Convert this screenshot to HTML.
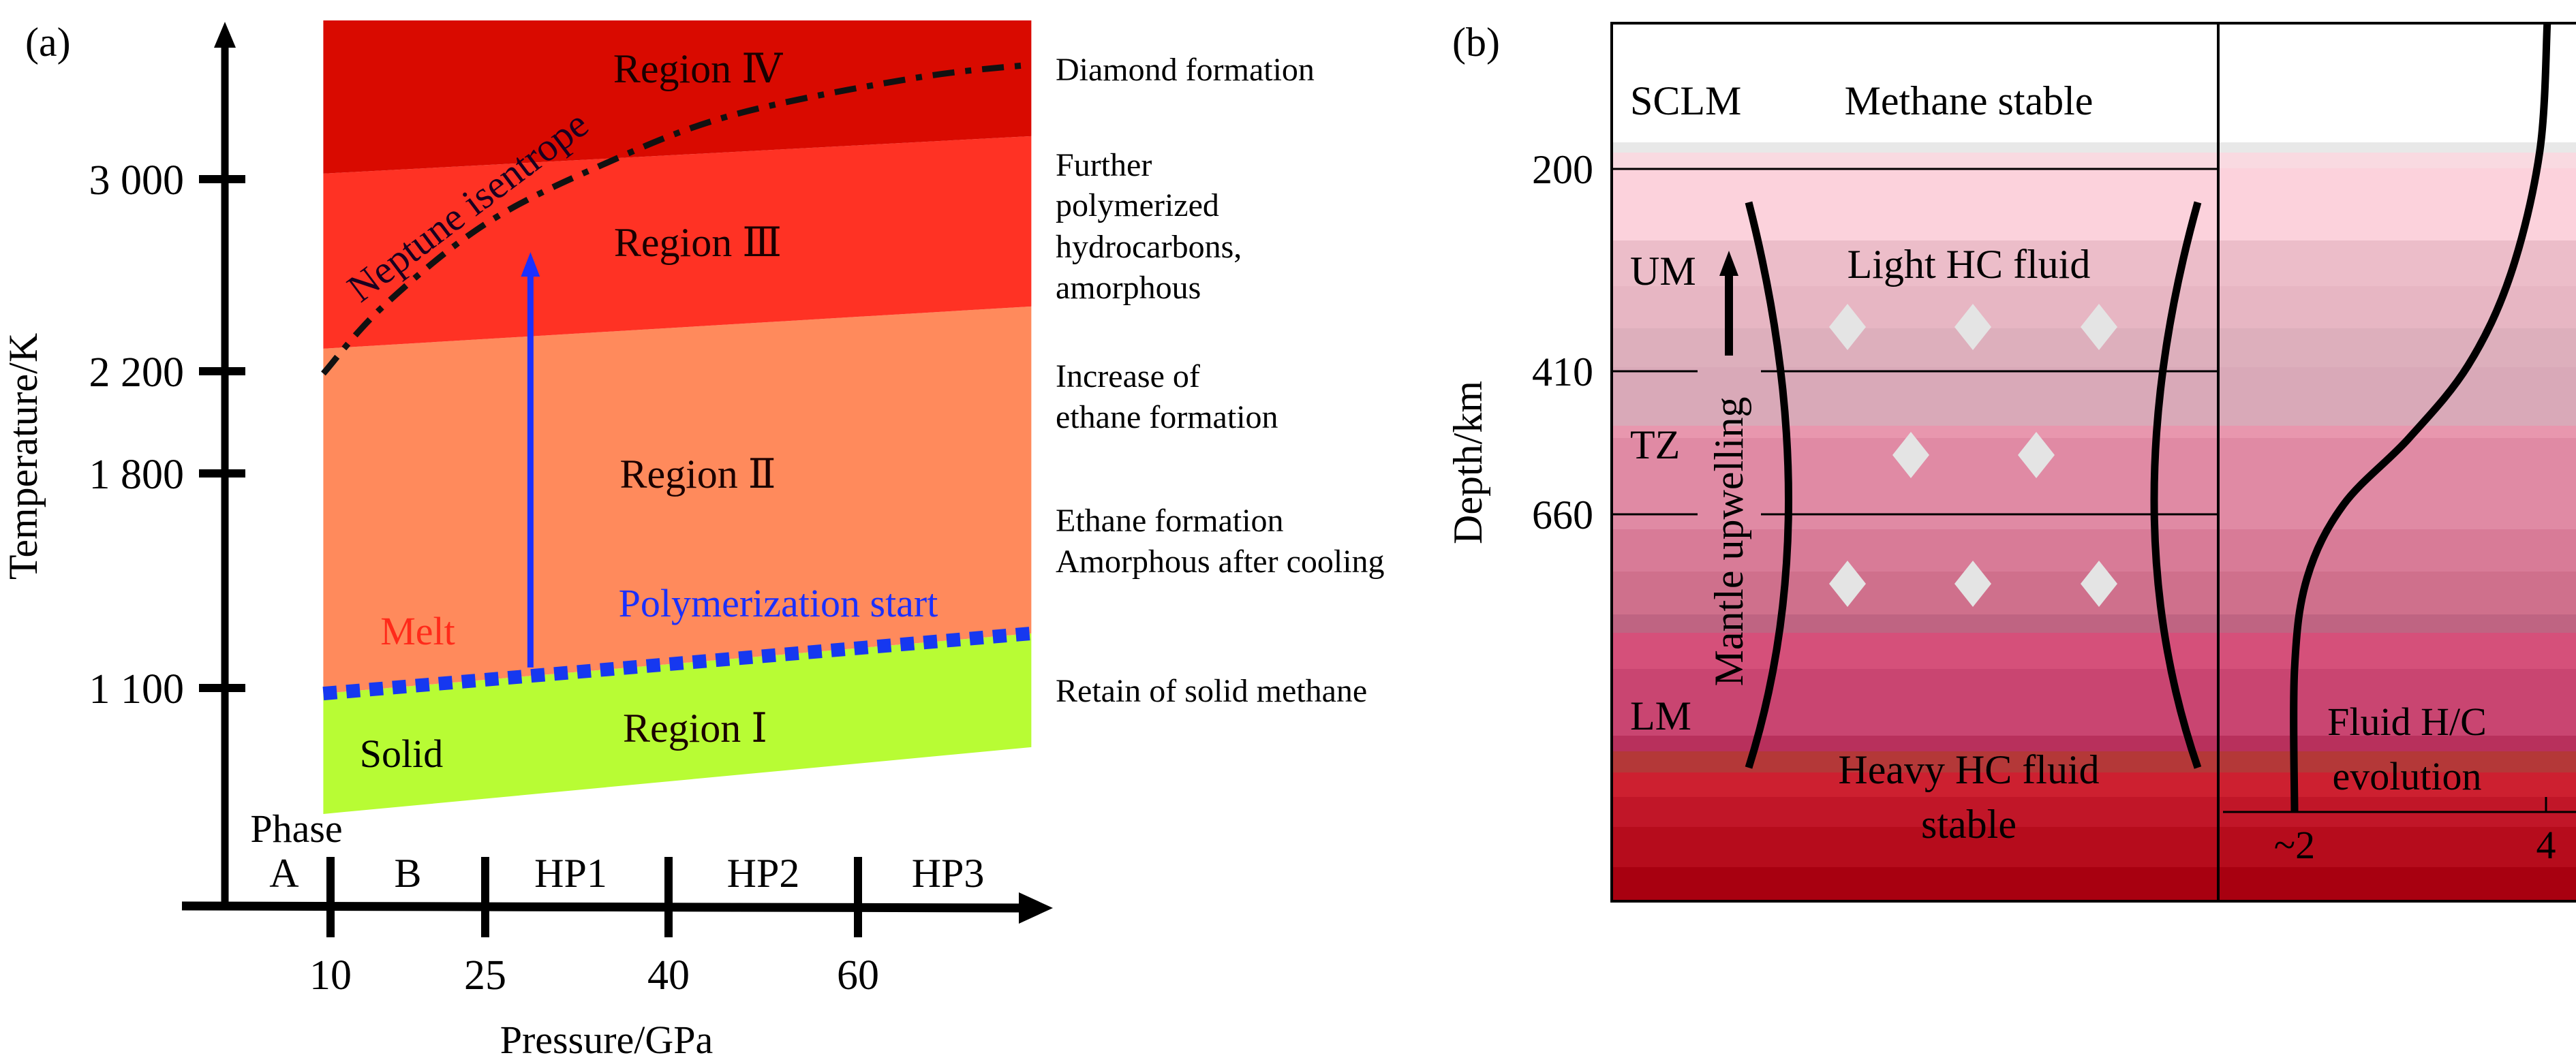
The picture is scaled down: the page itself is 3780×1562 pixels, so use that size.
<!DOCTYPE html>
<html><head><meta charset="utf-8"><style>
html,body{margin:0;padding:0;background:#fff}
svg{display:block}
text{font-family:"Liberation Serif","DejaVu Serif","Noto Serif CJK SC",serif}
</style></head><body>
<svg id="fig" width="3780" height="1562" viewBox="0 0 3780 1562" xmlns="http://www.w3.org/2000/svg">
<g id="pa"></g>
<g id="pb"></g>
</svg>
<script>
// ---------- Panel (a) data ----------
const pTicks = [10, 25, 40, 60];
const pTickPx = [485, 712, 981, 1259];        // axis calibration
const tTicks = [1100, 1800, 2200, 3000];
const tTickLabels = ["1 100", "1 800", "2 200", "3 000"];
const tTickPx = [1010, 695, 545, 263];        // axis calibration
const phaseLabels = ["A", "B", "HP1", "HP2", "HP3"];
const phaseCenters = [5.5, 17.5, 32, 50, 69.5];
const regionP = [9.3, 78.3];
const regionIBottom = [689, 907];
const meltLine = [1082, 1278];
const regionIIIBottom = [2294, 2470];
const regionIVBottom = [3023, 3179];
const regionTop = [3661, 3661];
const isenP = [9.3, 15.1, 24.9, 34.2, 46.5, 65.8, 78.3];
const isenT = [2191, 2470, 2810, 3051, 3264, 3420, 3477];
const arrowP = 28.7;
const arrowT = [1167, 2696];
// ---------- Panel (b) data ----------
const depthTicks = [200, 410, 660];
const depthPx = [248, 545, 755];
const hcValues = [2, 2, 2.10, 2.39, 2.91, 3.38, 3.72, 3.95, 4.01];
const hcDepths = [1180, 930, 771, 643, 527, 404, 309, 182, 48];
const hcTicks = [2, 4];
const hcTickLabels = ["~2", "4"];

const NS = "http://www.w3.org/2000/svg";
const FF = '"Liberation Serif","DejaVu Serif","Noto Serif CJK SC",serif';
function mk(parent, tag, attrs, txt){const e=document.createElementNS(NS,tag);for(const k in attrs)e.setAttribute(k,attrs[k]);if(tag==='text')e.setAttribute('font-family',FF);if(txt!==undefined)e.textContent=txt;parent.appendChild(e);return e;}
function interp(v, xs, ys){let i=0;if(v<=xs[0])i=0;else if(v>=xs[xs.length-1])i=xs.length-2;else{while(v>xs[i+1])i++;}
 return ys[i]+(v-xs[i])*(ys[i+1]-ys[i])/(xs[i+1]-xs[i]);}
const xP = p => interp(p, pTicks, pTickPx);
const yT = t => interp(t, tTicks, tTickPx);
const yD = d => interp(d, depthTicks, depthPx);
const xHC = v => 3367 + (v-2)*(3736-3367)/2;

const pa = document.getElementById('pa');
const pb = document.getElementById('pb');

function band(bot, top, fill, name){
  const pts=[[xP(regionP[0]),yT(bot[0])],[xP(regionP[1]),yT(bot[1])],[xP(regionP[1]),yT(top[1])],[xP(regionP[0]),yT(top[0])]];
  const e=mk(pa,'polygon',{points:pts.map(p=>p.join(',')).join(' '),fill:fill});
  
  
}
band(regionIBottom, meltLine, '#b8fc34', 'region-1-solid');
band(meltLine, regionIIIBottom, '#ff8a5c', 'region-2');
band(regionIIIBottom, regionIVBottom, '#ff3224', 'region-3');
band(regionIVBottom, regionTop, '#d90a00', 'region-4');

{const e=mk(pa,'line',{x1:xP(regionP[0]),y1:yT(meltLine[0]),x2:xP(regionP[1]),y2:yT(meltLine[1]),stroke:'#1638f0','stroke-width':20,'stroke-dasharray':'20 14'});

}

function smooth(pts){let d='M'+pts[0][0]+','+pts[0][1];
 for(let i=0;i<pts.length-1;i++){const p0=pts[Math.max(0,i-1)],p1=pts[i],p2=pts[i+1],p3=pts[Math.min(pts.length-1,i+2)];
 d+=' C'+(p1[0]+(p2[0]-p0[0])/6)+','+(p1[1]+(p2[1]-p0[1])/6)+' '+(p2[0]-(p3[0]-p1[0])/6)+','+(p2[1]-(p3[1]-p1[1])/6)+' '+p2[0]+','+p2[1];}
 return d;}
{const pts=isenP.map((p,i)=>[xP(p),yT(isenT[i])]);
const e=mk(pa,'path',{d:smooth(pts),fill:'none',stroke:'#111','stroke-width':9,'stroke-dasharray':'32 16 9 16'});

}

{const ax=xP(arrowP),y0=yT(arrowT[0]),y1=yT(arrowT[1]);
const l=mk(pa,'line',{x1:ax,y1:y0,x2:ax,y2:y1+30,stroke:'#1a30ff','stroke-width':9});


const h=mk(pa,'polygon',{points:`${ax-14},${y1+36} ${ax+14},${y1+36} ${ax},${y1}`,fill:'#1a30ff'});

}

{const a=mk(pa,'line',{x1:330,y1:1330,x2:330,y2:60,stroke:'#000','stroke-width':11});


const ah=mk(pa,'polygon',{points:'314,70 346,70 330,32',fill:'#000'});


const b=mk(pa,'line',{x1:267,y1:1330,x2:1505,y2:1333,stroke:'#000','stroke-width':13});


const bh=mk(pa,'polygon',{points:'1495,1310 1545,1333 1495,1356',fill:'#000'});

}
pTicks.forEach((p,i)=>{
 const t=mk(pa,'line',{x1:xP(p),y1:1258,x2:xP(p),y2:1376,stroke:'#000','stroke-width':12});
 
 
 const l=mk(pa,'text',{x:xP(p),y:1452,'font-size':62,'text-anchor':'middle'},String(p));
 
 
});
tTicks.forEach((t,i)=>{
 const k=mk(pa,'line',{x1:292,y1:yT(t),x2:360,y2:yT(t),stroke:'#000','stroke-width':12});
 
 
 const l=mk(pa,'text',{x:270,y:yT(t)+22,'font-size':62,'text-anchor':'end'},tTickLabels[i]);
 
 
});
phaseLabels.forEach((s,i)=>{
 const l=mk(pa,'text',{x:xP(phaseCenters[i]),y:1302,'font-size':60,'text-anchor':'middle'},s);
 
 
});

// ---------- Panel (b) ----------
const bandTops=[224,247,353,420,482,539,625,643,777,839,902,929,982,1080,1103,1134,1170,1214,1273];
const bandCols=['#f9dae1','#fcd2dc','#ecbdc9','#e7b6c3','#ddafbc','#d9a9b8','#e897ae','#e08aa4','#d87b97','#cf708c','#bf6482','#d5507a','#c94571','#b8305c','#b43838','#cd2030','#c11628','#b60c1c','#a80010'];
mk(pb,'rect',{x:2365,y:30,width:1415,height:1293,fill:'#fff'});
mk(pb,'rect',{x:2365,y:209,width:1415,height:15,fill:'#e8e8e8'});
bandTops.forEach((y,i)=>{const h=(i<bandTops.length-1?bandTops[i+1]:1323)-y;
 const r=mk(pb,'rect',{x:2365,y:y,width:1415,height:h,fill:bandCols[i]});
 
 });
{const f=mk(pb,'rect',{x:2365,y:34,width:1420,height:1289,fill:'none',stroke:'#000','stroke-width':4});


const dv=mk(pb,'line',{x1:3255,y1:34,x2:3255,y2:1323,stroke:'#000','stroke-width':4});

}
depthTicks.forEach((d,i)=>{
 const y=yD(d);
 if(i===0){const ln=mk(pb,'line',{x1:2365,y1:y,x2:3255,y2:y,stroke:'#000','stroke-width':3});
  
  }
 else{const a=mk(pb,'line',{x1:2365,y1:y,x2:2491,y2:y,stroke:'#000','stroke-width':3});
  
  
  const b=mk(pb,'line',{x1:2584,y1:y,x2:3255,y2:y,stroke:'#000','stroke-width':3});
  
  }
 const l=mk(pb,'text',{x:2338,y:y+21,'font-size':60,'text-anchor':'end'},String(d));
 
 
});
[[2711,480],[2895,480],[3080,480],[2804,668],[2988,668],[2711,857],[2895,857],[3080,857]].forEach(p=>{
 const d=mk(pb,'polygon',{points:`${p[0]},${p[1]-34} ${p[0]+27},${p[1]} ${p[0]},${p[1]+34} ${p[0]-27},${p[1]}`,fill:'#e4e4e4'});
 
 });
{const l=mk(pb,'path',{d:'M2566,297 Q2683,755 2566,1127',fill:'none',stroke:'#000','stroke-width':11});


const r=mk(pb,'path',{d:'M3225,297 Q3097,755 3225,1127',fill:'none',stroke:'#000','stroke-width':11});


const ar=mk(pb,'line',{x1:2537,y1:522,x2:2537,y2:400,stroke:'#000','stroke-width':12});


const ah=mk(pb,'polygon',{points:'2523,405 2551,405 2537,368',fill:'#000'});

}
{const ax=mk(pb,'line',{x1:3262,y1:1192,x2:3780,y2:1192,stroke:'#000','stroke-width':3});

}
hcTicks.forEach((v,i)=>{
 const t=mk(pb,'line',{x1:xHC(v),y1:1192,x2:xHC(v),y2:1170,stroke:'#000','stroke-width':3});
 
 
 const l=mk(pb,'text',{x:xHC(v),y:1260,'font-size':58,'text-anchor':'middle'},hcTickLabels[i]);
 
 
});
{const pts=hcValues.map((v,i)=>[xHC(v),yD(hcDepths[i])]);
pts[0][1]=1192;
const c=mk(pb,'path',{d:smooth(pts),fill:'none',stroke:'#000','stroke-width':11});

}

// static text labels
const T=[
 ['pa',37,82,60,'start','#000','(a)','panel-a-label'],
 ['pa',1024,121,60,'middle','#1a0000','Region Ⅳ','region-4-label'],
 ['pa',1024,376,60,'middle','#1a0000','Region Ⅲ','region-3-label'],
 ['pa',1024,716,60,'middle','#1a0000','Region Ⅱ','region-2-label'],
 ['pa',1020,1089,60,'middle','#1a0000','Region Ⅰ','region-1-label'],
 ['pa',613,946,58,'middle','#ff2a1a','Melt','melt-label'],
 ['pa',1142,905,58,'middle','#1a30ff','Polymerization start','polymerization-start-label'],
 ['pa',589,1126,58,'middle','#000','Solid','solid-label'],
 ['pa',435,1236,58,'middle','#000','Phase','phase-title'],
 ['pa',890,1546,58,'middle','#000','Pressure/GPa','x-axis-title'],
 ['pa',1549,118,48,'start','#000','Diamond formation','note-diamond'],
 ['pa',1549,258,48,'start','#000','Further','note-further-1'],
 ['pa',1549,317,48,'start','#000','polymerized','note-further-2'],
 ['pa',1549,378,48,'start','#000','hydrocarbons,','note-further-3'],
 ['pa',1549,438,48,'start','#000','amorphous','note-further-4'],
 ['pa',1549,568,48,'start','#000','Increase of','note-increase-1'],
 ['pa',1549,628,48,'start','#000','ethane formation','note-increase-2'],
 ['pa',1549,780,48,'start','#000','Ethane formation','note-ethane-1'],
 ['pa',1549,840,48,'start','#000','Amorphous after cooling','note-ethane-2'],
 ['pa',1549,1030,48,'start','#000','Retain of solid methane','note-solid'],
 ['pb',2131,82,60,'start','#000','(b)','panel-b-label'],
 ['pb',2392,168,60,'start','#000','SCLM','sclm-label'],
 ['pb',2889,168,60,'middle','#000','Methane stable','methane-stable-label'],
 ['pb',2889,408,60,'middle','#000','Light HC fluid','light-hc-label'],
 ['pb',2392,418,60,'start','#000','UM','um-label'],
 ['pb',2392,673,60,'start','#000','TZ','tz-label'],
 ['pb',2392,1071,60,'start','#000','LM','lm-label'],
 ['pb',2889,1150,60,'middle','#000','Heavy HC fluid','heavy-hc-label-1'],
 ['pb',2889,1230,60,'middle','#000','stable','heavy-hc-label-2'],
 ['pb',3532,1079,58,'middle','#000','Fluid H/C','fluid-hc-label-1'],
 ['pb',3532,1159,58,'middle','#000','evolution','fluid-hc-label-2']
];
T.forEach(t=>{const e=document.createElementNS(NS,'text');
 e.setAttribute('x',t[1]);e.setAttribute('y',t[2]);e.setAttribute('font-size',t[3]);
 e.setAttribute('font-family',FF);
 e.setAttribute('text-anchor',t[4]);e.setAttribute('fill',t[5]);e.textContent=t[6];
 
 
 document.getElementById(t[0]).appendChild(e);});
function rot(par,x,y,size,txt,ang,fill,name){const e=document.createElementNS(NS,'text');
 e.setAttribute('x',0);e.setAttribute('y',0);e.setAttribute('font-size',size);e.setAttribute('text-anchor','middle');
 e.setAttribute('font-family',FF);
 e.setAttribute('fill',fill);e.setAttribute('transform',`translate(${x},${y}) rotate(${ang})`);e.textContent=txt;
 
 
 document.getElementById(par).appendChild(e);}
rot('pa',54,670,60,'Temperature/K',-90,'#000','y-axis-title');
rot('pa',698,318,58,'Neptune isentrope',-37,'#1a0020','neptune-isentrope-label');
rot('pb',2174,679,60,'Depth/km',-90,'#000','depth-axis-title');
rot('pb',2557,795,60,'Mantle upwelling',-90,'#000','mantle-upwelling-label');
</script>
</body></html>
